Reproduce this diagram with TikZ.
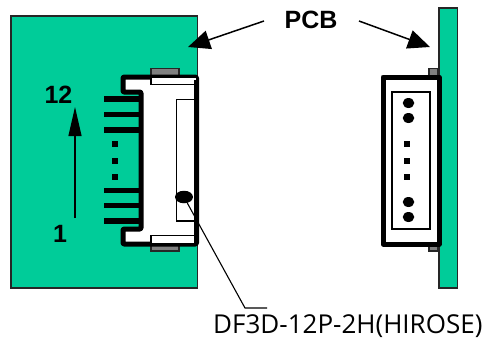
\documentclass[tikz,border=0pt]{standalone}
\usepackage{fontspec}
\setmainfont{Liberation Sans}
\newfontfamily\labelfont{Open Sans}
\usetikzlibrary{arrows.meta,shapes.geometric}
\definecolor{pcbgreen}{RGB}{0,204,153}
\definecolor{tabgrey}{RGB}{128,128,128}
\tikzset{
    board/.style={draw=black!85,fill=pcbgreen,line width=1.6pt},
    shell/.style={draw=black,fill=white,line width=5pt,line join=round},
    thinbox/.style={draw=black,fill=white,line width=1.8pt},
    tab/.style={draw=black!85,fill=tabgrey,line width=1.6pt},
    pin/.style={draw=black,line width=5.2pt},
    hole/.style={fill=black,inner sep=0pt,minimum width=6.5pt,minimum height=6.5pt},
    contact/.style={ellipse,fill=black,inner sep=0pt,minimum width=11.5pt,minimum height=10pt},
    bigarrow/.style={-{Triangle[length=22pt,width=19pt]},line width=1.5pt},
    boldlabel/.style={font=\fontsize{25}{28}\selectfont\bfseries,inner sep=0pt}
}
\begin{document}
\begin{tikzpicture}[x=1pt,y=-1pt]
    \useasboundingbox (0,0) rectangle (488,341);
    % left view
    \draw[board] (11,16) rectangle (197.5,288);
    \draw[tab] (151,68.5) rectangle (179,77);
    \draw[tab] (151,244) rectangle (179,251);
    \foreach \y in {99,114.5,130,190.5,205.5,221}
        \draw[pin] (104,\y) -- (141,\y);
    \draw[shell,rounded corners=1pt] (196.5,77) -- (123,77) -- (123,92) -- (141,92) -- (141,229) -- (123,229) -- (123,244) -- (196.5,244) -- cycle;
    \draw[thinbox] (151,77) rectangle (197,84.5);
    \draw[thinbox] (151,235.5) rectangle (197,244);
    \draw[thinbox] (176.5,99.5) rectangle (195,221);
    \draw[draw=black,line width=5pt] (196.5,80) -- (196.5,243);
    \foreach \y in {144,161,177}
        \node[hole] at (115,\y) {};
    \node[contact,minimum width=18pt,minimum height=12.5pt] (solder) at (184,197) {};
    % right view
    \draw[board] (439,8) rectangle (457.5,288);
    \draw[tab] (429,68.5) rectangle (438,76);
    \draw[tab] (429,245) rectangle (438,251);
    \draw[shell] (383,77) rectangle (439,244);
    \draw[thinbox,line width=1.3pt] (392,92) rectangle (430,229);
    \foreach \y in {103,118,202,217}
        \node[contact] at (408.5,\y) {};
    \foreach \y in {144,161,177}
        \node[hole] at (407,\y) {};
    % labels
    \node[boldlabel] (pcb) at (311,20) {PCB};
    \coordinate (leftstart) at (264,21);
    \coordinate (leftend) at (188,47);
    \coordinate (rightstart) at (359,21);
    \coordinate (rightend) at (430,47);
    \draw[bigarrow] (leftstart) -- (leftend);
    \draw[bigarrow] (rightstart) -- (rightend);
    \node[boldlabel] (twelve) at (58.5,95) {12};
    \node[boldlabel] (one) at (60,234) {1};
    \coordinate (pinend) at (75,107);
    \coordinate (pinstart) at (75,218);
    \draw[-{Triangle[length=29pt,width=13pt]},line width=1.2pt] (pinstart) -- (pinend);
    \node[font=\labelfont\fontsize{26}{30}\selectfont,inner sep=0pt,anchor=west] (partname) at (213,326) {DF3D-12P-2H(HIROSE)};
    \coordinate (bend) at (245,308);
    \coordinate (tail) at (267,308);
    \draw[line width=1.1pt] (solder) -- (bend) -- (tail);
\end{tikzpicture}
\end{document}
